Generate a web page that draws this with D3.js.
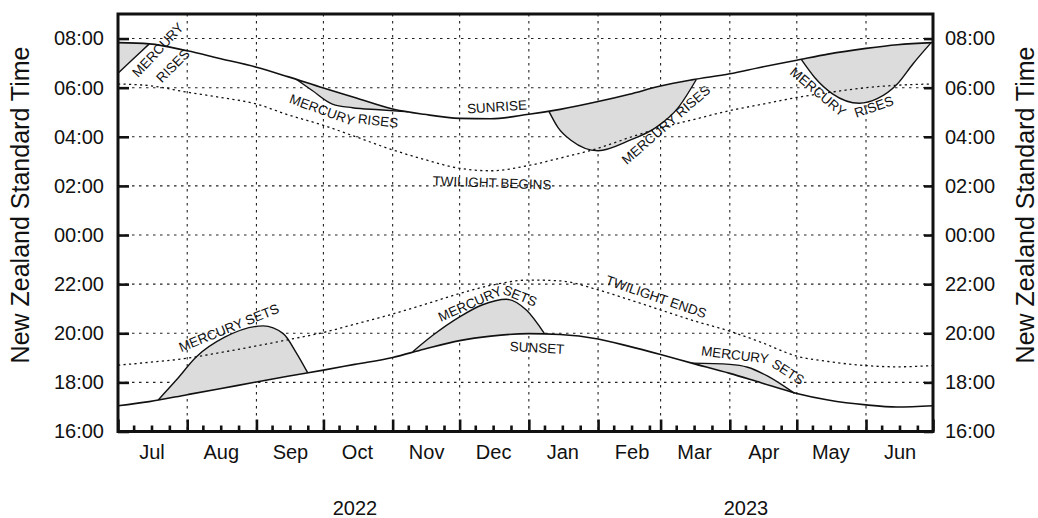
<!DOCTYPE html>
<html>
<head>
<meta charset="utf-8">
<script src="https://cdn.jsdelivr.net/npm/d3@7"></script>
<style>
  body { margin: 0; background: #fff; }
  text { font-family: "Liberation Sans", Arial, Helvetica, sans-serif; fill: #111; }
</style>
</head>
<body>
<script>
/* global d3 */

// Data (NZST)
const sunDates = ['2022-07-01', '2022-07-15', '2022-08-01', '2022-08-15', '2022-09-01', '2022-09-15',
  '2022-10-01', '2022-10-15', '2022-11-01', '2022-11-15', '2022-12-01', '2022-12-15',
  '2023-01-01', '2023-01-15', '2023-02-01', '2023-02-15', '2023-03-01', '2023-03-15',
  '2023-04-01', '2023-04-15', '2023-05-01', '2023-05-15', '2023-06-01', '2023-06-15', '2023-07-01'];
const sunrise = ['07:50', '07:47', '07:30', '07:12', '06:50', '06:27', '05:59', '05:36', '05:08', '04:55',
  '04:45', '04:44', '04:55', '05:07', '05:26', '05:44', '06:04', '06:19', '06:34', '06:50', '07:07',
  '07:22', '07:36', '07:45', '07:50'];
const sunset = ['17:03', '17:13', '17:30', '17:44', '18:01', '18:15', '18:30', '18:44', '19:01', '19:21',
  '19:42', '19:53', '19:59', '19:57', '19:46', '19:28', '19:08', '18:47', '18:22', '17:59', '17:33',
  '17:17', '17:05', '17:00', '17:03'];
const twilightBegins = ['06:09', '06:05', '05:49', '05:37', '05:20', '04:54', '04:28', '04:01', '03:28', '03:05',
  '02:43', '02:37', '02:50', '03:08', '03:32', '03:58', '04:22', '04:41', '05:04', '05:19', '05:36',
  '05:48', '06:00', '06:06', '06:09'];
const twilightEnds = ['18:42', '18:49', '18:59', '19:12', '19:29', '19:44', '20:02', '20:22', '20:47', '21:10',
  '21:37', '21:57', '22:10', '22:08', '21:46', '21:22', '20:57', '20:32', '20:05', '19:38', '19:04',
  '18:51', '18:41', '18:38', '18:41'];

const mercuryRises = [
  [['2022-07-01', '06:35'], ['2022-07-08', '07:11'], ['2022-07-15', '07:47']],
  [['2022-09-19', '06:20'], ['2022-09-26', '05:53'], ['2022-10-05', '05:20'], ['2022-10-14', '05:11'],
    ['2022-10-26', '05:06'], ['2022-11-08', '05:01']],
  [['2023-01-10', '05:02'], ['2023-01-14', '04:23'], ['2023-01-20', '03:51'], ['2023-02-01', '03:26'],
    ['2023-02-15', '03:51'], ['2023-02-27', '04:23'], ['2023-03-09', '05:12'], ['2023-03-17', '06:20']],
  [['2023-05-03', '07:09'], ['2023-05-09', '06:25'], ['2023-05-17', '05:45'], ['2023-05-29', '05:22'],
    ['2023-06-06', '05:33'], ['2023-06-15', '06:09'], ['2023-06-22', '06:58'], ['2023-06-30', '07:49']],
];
const mercurySets = [
  [['2022-07-19', '17:17'], ['2022-07-27', '18:05'], ['2022-08-05', '19:02'], ['2022-08-18', '19:51'],
    ['2022-09-04', '20:18'], ['2022-09-13', '19:59'], ['2022-09-19', '19:11'], ['2022-09-24', '18:23']],
  [['2022-11-10', '19:15'], ['2022-11-19', '19:55'], ['2022-12-01', '20:40'], ['2022-12-11', '21:09'],
    ['2022-12-22', '21:23'], ['2022-12-31', '20:56'], ['2023-01-08', '19:59']],
  [['2023-03-15', '18:47'], ['2023-04-01', '18:44'], ['2023-04-09', '18:37'], ['2023-04-18', '18:15'],
    ['2023-04-30', '17:33']],
];

const monthLabels = ['Jul', 'Aug', 'Sep', 'Oct', 'Nov', 'Dec', 'Jan', 'Feb', 'Mar', 'Apr', 'May', 'Jun'];
const yearLabels = ['2022', '2023'];
const hourTicks = [16, 18, 20, 22, 24, 26, 28, 30, 32];
const axisTitle = 'New Zealand Standard Time';

// Layout
const width = 1038;
const height = 518;
const plotLeft = 118;
const plotRight = 933;
const plotTop = 14;
const plotBottom = 431.5;

const parseDate = d3.timeParse('%Y-%m-%d');
const toHours = (s) => {
  const [h, m] = s.split(':').map(Number);
  return (h < 12 ? h + 24 : h) + m / 60;
};

const sun = sunDates.map((d, i) => ({
  date: parseDate(d),
  rise: toHours(sunrise[i]),
  set: toHours(sunset[i]),
  begin: toHours(twilightBegins[i]),
  end: toHours(twilightEnds[i]),
}));
const toPoints = (arr) => arr.map(([d, t]) => ({ date: parseDate(d), h: toHours(t) }));

const svg = d3.select('body').append('svg')
  .attr('width', width)
  .attr('height', height);

// Scales
const x = d3.scaleTime()
  .domain([parseDate('2022-07-01'), parseDate('2023-07-01')])
  .range([plotLeft, plotRight]);
const y = d3.scaleLinear()
  .domain([16, 33])
  .range([plotBottom, plotTop]);

const curve = d3.curveMonotoneX;

// Grid
const grid = svg.append('g')
  .attr('stroke', '#222')
  .attr('stroke-width', 1.1)
  .attr('stroke-dasharray', '2.5,4.5');
grid.selectAll('.vgrid')
  .data(d3.timeMonth.range(parseDate('2022-08-01'), parseDate('2023-07-01')))
  .join('line')
  .attr('x1', (d) => x(d)).attr('x2', (d) => x(d))
  .attr('y1', plotTop).attr('y2', plotBottom);
grid.selectAll('.hgrid')
  .data(hourTicks.filter((h) => h > 16))
  .join('line')
  .attr('x1', plotLeft).attr('x2', plotRight)
  .attr('y1', (d) => y(d)).attr('y2', (d) => y(d));

// Clip regions bounded by the sun curves
const defs = svg.append('defs');
defs.append('clipPath').attr('id', 'below-sunrise')
  .append('path')
  .attr('d', d3.area().curve(curve)
    .x((d) => x(d.date)).y0(y(16)).y1((d) => y(d.rise))(sun));
defs.append('clipPath').attr('id', 'above-sunset')
  .append('path')
  .attr('d', d3.area().curve(curve)
    .x((d) => x(d.date)).y0((d) => y(d.set)).y1(y(33))(sun));

// Mercury shading
const fillColor = '#dcdcdc';
svg.append('g')
  .attr('clip-path', 'url(#below-sunrise)')
  .selectAll('path')
  .data(mercuryRises.map(toPoints))
  .join('path')
  .attr('fill', fillColor)
  .attr('d', d3.area().curve(curve)
    .x((d) => x(d.date)).y0((d) => y(d.h)).y1(y(33)));
svg.append('g')
  .attr('clip-path', 'url(#above-sunset)')
  .selectAll('path')
  .data(mercurySets.map(toPoints))
  .join('path')
  .attr('fill', fillColor)
  .attr('d', d3.area().curve(curve)
    .x((d) => x(d.date)).y0(y(16)).y1((d) => y(d.h)));

// Twilight (dotted)
['begin', 'end'].forEach((key) => {
  svg.append('path')
    .datum(sun)
    .attr('fill', 'none')
    .attr('stroke', '#111')
    .attr('stroke-width', 1.3)
    .attr('stroke-dasharray', '2.2,3.3')
    .attr('d', d3.line().curve(curve).x((d) => x(d.date)).y((d) => y(d[key])));
});

// Sunrise / sunset
['rise', 'set'].forEach((key) => {
  svg.append('path')
    .datum(sun)
    .attr('fill', 'none')
    .attr('stroke', '#111')
    .attr('stroke-width', 1.6)
    .attr('d', d3.line().curve(curve).x((d) => x(d.date)).y((d) => y(d[key])));
});

// Mercury curves
svg.append('g')
  .selectAll('path')
  .data(mercuryRises.concat(mercurySets).map(toPoints))
  .join('path')
  .attr('fill', 'none')
  .attr('stroke', '#111')
  .attr('stroke-width', 1.4)
  .attr('d', d3.line().curve(curve).x((d) => x(d.date)).y((d) => y(d.h)));

// Frame
svg.append('rect')
  .attr('x', plotLeft)
  .attr('y', plotTop)
  .attr('width', plotRight - plotLeft)
  .attr('height', plotBottom - plotTop)
  .attr('fill', 'none')
  .attr('stroke', '#111')
  .attr('stroke-width', 3);

// Axes
const hourFormat = (h) => `${String(h % 24).padStart(2, '0')}:00`;
const styleAxis = (g) => {
  g.select('.domain').remove();
  g.selectAll('.tick line').attr('stroke', '#111').attr('stroke-width', 2.6);
  g.selectAll('.tick text')
    .attr('fill', '#111')
    .style('font-size', '20px')
    .style('font-family', '"Liberation Sans", Arial, sans-serif');
};

svg.append('g')
  .attr('transform', `translate(${plotLeft},0)`)
  .call(d3.axisLeft(y).tickValues(hourTicks).tickFormat(hourFormat).tickSize(-11).tickPadding(14))
  .call(styleAxis);
svg.append('g')
  .attr('transform', `translate(${plotRight},0)`)
  .call(d3.axisRight(y).tickValues(hourTicks).tickFormat(hourFormat).tickSize(-9).tickPadding(12))
  .call(styleAxis);

// Month ticks
svg.append('g')
  .attr('transform', `translate(0,${plotBottom})`)
  .call(d3.axisBottom(x).ticks(d3.timeMonth).tickFormat('').tickSize(-12))
  .call(styleAxis);
const minorDays = [];
d3.timeMonth.range(x.domain()[0], x.domain()[1]).forEach((m) => {
  [8, 16, 24].forEach((day) => minorDays.push(new Date(m.getFullYear(), m.getMonth(), day)));
});
svg.append('g')
  .attr('transform', `translate(0,${plotBottom})`)
  .call(d3.axisBottom(x).tickValues(minorDays).tickFormat('').tickSize(-6))
  .call(styleAxis);

// Month labels, centred in each month
const monthMids = d3.timeMonth.range(x.domain()[0], x.domain()[1])
  .map((m) => new Date(m.getFullYear(), m.getMonth(), 16));
svg.append('g')
  .attr('transform', `translate(0,${plotBottom})`)
  .call(d3.axisBottom(x).tickValues(monthMids).tickSize(0).tickPadding(13)
    .tickFormat((d, i) => monthLabels[i]))
  .call(styleAxis);

// Years
svg.append('g')
  .selectAll('text')
  .data(yearLabels)
  .join('text')
  .attr('x', (d, i) => [355, 746][i])
  .attr('y', 515)
  .attr('text-anchor', 'middle')
  .attr('font-size', '20px')
  .text((d) => d);

// Axis titles
[29, 1034].forEach((tx) => {
  svg.append('text')
    .attr('transform', `translate(${tx},205) rotate(-90)`)
    .attr('text-anchor', 'middle')
    .attr('font-size', '25px')
    .text(axisTitle);
});

// Curve labels
const notes = [
  ['MERCURY', 158, 50, -47],
  ['RISES', 173, 66, -45],
  ['MERCURY', 322, 110, 20],
  ['RISES', 378, 121, 6],
  ['SUNRISE', 497, 107, -4],
  ['TWILIGHT BEGINS', 492, 183, 2],
  ['MERCURY RISES', 666, 125, -41],
  ['MERCURY', 818, 92, 40],
  ['RISES', 874, 107, -19],
  ['MERCURY SETS', 229, 328, -22],
  ['MERCURY', 470, 304, -24],
  ['SETS', 520, 296, 22],
  ['SUNSET', 537, 348, 3],
  ['TWILIGHT ENDS', 656, 297, 19],
  ['MERCURY', 735, 355, 7],
  ['SETS', 788, 372, 33],
];
svg.append('g')
  .selectAll('text')
  .data(notes)
  .join('text')
  .attr('transform', (d) => `translate(${d[1]},${d[2]}) rotate(${d[3]})`)
  .attr('text-anchor', 'middle')
  .attr('dominant-baseline', 'central')
  .attr('font-size', '13.5px')
  .text((d) => d[0]);
</script>
</body>
</html>
